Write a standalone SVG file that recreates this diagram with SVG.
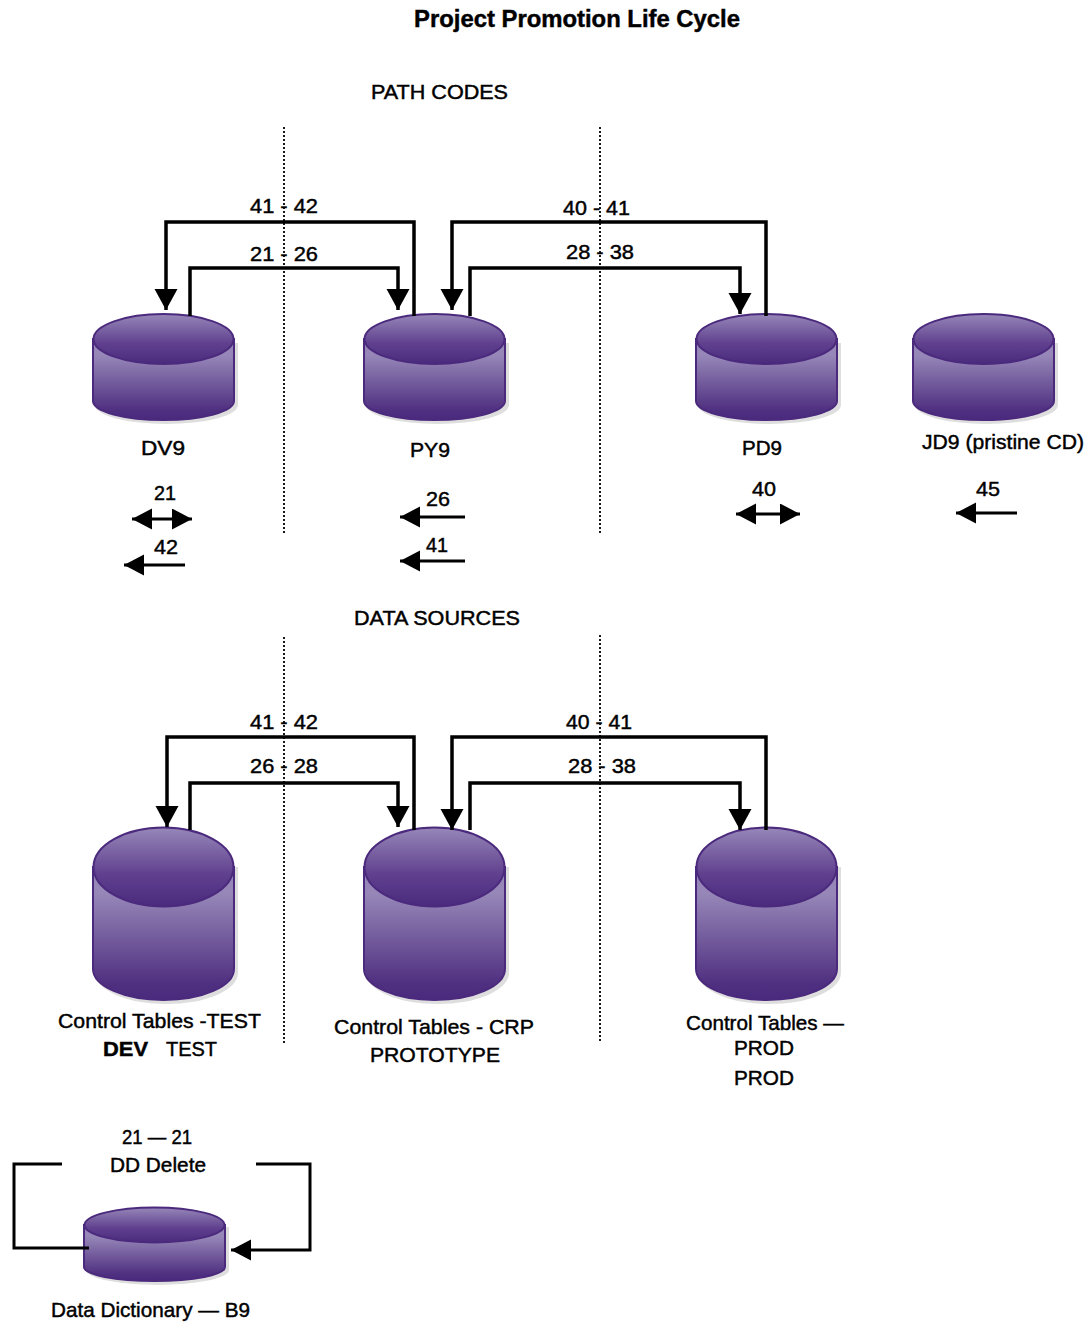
<svg xmlns="http://www.w3.org/2000/svg" xmlns:xlink="http://www.w3.org/1999/xlink" width="1089" height="1325" viewBox="0 0 1089 1325">
<style>
text{font-family:"Liberation Sans",Arial,sans-serif;font-size:21px;fill:#000;stroke:#000;stroke-width:.45px}
.b{font-weight:bold}
.t{font-weight:bold;font-size:24px}
.c{fill:none;stroke:#000;stroke-width:3.5px;stroke-linejoin:miter}
.s{stroke-width:3px}
.d{fill:none;stroke:#000;stroke-width:1.800px;stroke-dasharray:2 2}
.rim{stroke:#4b2a7d;stroke-width:2px}
.sh{fill:#dedede}
</style>
<defs>
<linearGradient id="gt" x1="0" y1="0" x2="0" y2="1"><stop offset="0" stop-color="#9687b8"/><stop offset=".6" stop-color="#5f3f8e"/><stop offset="1" stop-color="#4a2a7c"/></linearGradient>
<linearGradient id="gb" x1="0" y1="0" x2="0" y2="1"><stop offset=".2" stop-color="#9687b8"/><stop offset=".88" stop-color="#4f2f80"/><stop offset="1" stop-color="#4a2a7c"/></linearGradient>
<marker id="ah" markerUnits="userSpaceOnUse" markerWidth="24" markerHeight="24" refX="21" refY="11.500" orient="auto-start-reverse"><path d="M0,0L21,11.500L0,23Z" fill="#000"/></marker>
<marker id="ahs" markerUnits="userSpaceOnUse" markerWidth="24" markerHeight="24" refX="20" refY="10.500" orient="auto-start-reverse"><path d="M0,0L20,10.500L0,21Z" fill="#000"/></marker>
<g id="cyl-s">
<path class="sh" d="M3,30V92A71.500,19 0 0 0 146,92V30Z"/>
<path class="rim" fill="url(#gb)" d="M1,26V88A70.500,19 0 0 0 142,88V26Z"/>
<ellipse class="rim" fill="url(#gt)" cx="71.500" cy="26" rx="70" ry="25"/>
</g>
<g id="cyl-t">
<path class="sh" d="M3,40V146A71.500,31 0 0 0 146,146V40Z"/>
<path class="rim" fill="url(#gb)" d="M1,40V142A70.500,31 0 0 0 142,142V40Z"/>
<ellipse class="rim" fill="url(#gt)" cx="71.500" cy="40" rx="70" ry="39.500"/>
</g>
<g id="cyl-d">
<path class="sh" d="M3,20V63A71.500,15 0 0 0 146,63V20Z"/>
<path class="rim" fill="url(#gb)" d="M1,18V60A70.500,14 0 0 0 142,60V18Z"/>
<ellipse class="rim" fill="url(#gt)" cx="71.500" cy="18" rx="70" ry="17.500"/>
</g>
</defs>
<rect width="1089" height="1325" fill="#fff"/>
<g id="headings">
<text class="t" x="414" y="27" textLength="326" lengthAdjust="spacingAndGlyphs">Project Promotion Life Cycle</text>
<text x="371" y="99" textLength="137" lengthAdjust="spacingAndGlyphs">PATH CODES</text>
<text x="354" y="625" textLength="166" lengthAdjust="spacingAndGlyphs">DATA SOURCES</text>
</g>
<g id="dividers">
<path class="d" d="M284,127V534M600,127V534M284,637V1043M600,635V1041"/>
</g>
<g id="node-dv9"><use href="#cyl-s" x="92" y="313"/><text x="141" y="455" textLength="44" lengthAdjust="spacingAndGlyphs">DV9</text></g>
<g id="node-py9"><use href="#cyl-s" x="363" y="313"/><text x="410" y="457" textLength="40" lengthAdjust="spacingAndGlyphs">PY9</text></g>
<g id="node-pd9"><use href="#cyl-s" x="695" y="313"/><text x="742" y="455" textLength="40" lengthAdjust="spacingAndGlyphs">PD9</text></g>
<g id="node-jd9"><use href="#cyl-s" x="912" y="313"/><text x="922" y="449" textLength="162" lengthAdjust="spacingAndGlyphs">JD9 (pristine CD)</text></g>
<g id="node-ct-test"><use href="#cyl-t" x="92" y="827"/><text x="58" y="1028" textLength="203" lengthAdjust="spacingAndGlyphs">Control Tables -TEST</text><text class="b" x="103" y="1056" textLength="45" lengthAdjust="spacingAndGlyphs">DEV</text><text x="166" y="1056" textLength="51" lengthAdjust="spacingAndGlyphs">TEST</text></g>
<g id="node-ct-crp"><use href="#cyl-t" x="363" y="827"/><text x="334" y="1034" textLength="200" lengthAdjust="spacingAndGlyphs">Control Tables - CRP</text><text x="370" y="1062" textLength="130" lengthAdjust="spacingAndGlyphs">PROTOTYPE</text></g>
<g id="node-ct-prod"><use href="#cyl-t" x="695" y="827"/><text x="686" y="1030" textLength="158" lengthAdjust="spacingAndGlyphs">Control Tables —</text><text x="734" y="1055" textLength="60" lengthAdjust="spacingAndGlyphs">PROD</text><text x="734" y="1085" textLength="60" lengthAdjust="spacingAndGlyphs">PROD</text></g>
<g id="node-dd"><use href="#cyl-d" x="83" y="1207"/><text x="51" y="1317" textLength="199" lengthAdjust="spacingAndGlyphs">Data Dictionary — B9</text></g>
<g id="connectors">
<path class="c" marker-end="url(#ah)" d="M414,316V222H166V310"/>
<path class="c" marker-end="url(#ah)" d="M190,316V268H398V310"/>
<path class="c" marker-end="url(#ah)" d="M766,316V222H452V310"/>
<path class="c" marker-end="url(#ah)" d="M470,316V268H740V314"/>
<path class="c" marker-end="url(#ah)" d="M414,830V737H167V827"/>
<path class="c" marker-end="url(#ah)" d="M190,830V783H398V827"/>
<path class="c" marker-end="url(#ah)" d="M766,830V737H452V830"/>
<path class="c" marker-end="url(#ah)" d="M470,830V783H740V830"/>
<path class="c s" marker-start="url(#ahs)" marker-end="url(#ahs)" d="M132,519H192"/>
<path class="c s" marker-end="url(#ahs)" d="M185,565H124"/>
<path class="c s" marker-end="url(#ahs)" d="M465,517H400"/>
<path class="c s" marker-end="url(#ahs)" d="M465,561H400"/>
<path class="c s" marker-start="url(#ahs)" marker-end="url(#ahs)" d="M736,514H800"/>
<path class="c s" marker-end="url(#ahs)" d="M1017,513H956"/>
<path class="c s" d="M62,1164H14V1248H89"/>
<path class="c s" marker-end="url(#ahs)" d="M256,1164H310V1250H231"/>
<text x="250" y="213" textLength="68" lengthAdjust="spacingAndGlyphs">41 - 42</text>
<text x="250" y="261" textLength="68" lengthAdjust="spacingAndGlyphs">21 - 26</text>
<text x="563" y="215" textLength="67" lengthAdjust="spacingAndGlyphs">40 - 41</text>
<text x="566" y="259" textLength="68" lengthAdjust="spacingAndGlyphs">28 - 38</text>
<text x="154" y="500" textLength="22" lengthAdjust="spacingAndGlyphs">21</text>
<text x="154" y="554" textLength="24" lengthAdjust="spacingAndGlyphs">42</text>
<text x="426" y="506" textLength="24" lengthAdjust="spacingAndGlyphs">26</text>
<text x="426" y="552" textLength="22" lengthAdjust="spacingAndGlyphs">41</text>
<text x="752" y="496" textLength="24" lengthAdjust="spacingAndGlyphs">40</text>
<text x="976" y="496" textLength="24" lengthAdjust="spacingAndGlyphs">45</text>
<text x="250" y="729" textLength="68" lengthAdjust="spacingAndGlyphs">41 - 42</text>
<text x="250" y="773" textLength="68" lengthAdjust="spacingAndGlyphs">26 - 28</text>
<text x="566" y="729" textLength="66" lengthAdjust="spacingAndGlyphs">40 - 41</text>
<text x="568" y="773" textLength="68" lengthAdjust="spacingAndGlyphs">28 - 38</text>
<text x="122" y="1144" textLength="70" lengthAdjust="spacingAndGlyphs">21 — 21</text>
<text x="110" y="1172" textLength="96" lengthAdjust="spacingAndGlyphs">DD Delete</text>
</g>
</svg>
